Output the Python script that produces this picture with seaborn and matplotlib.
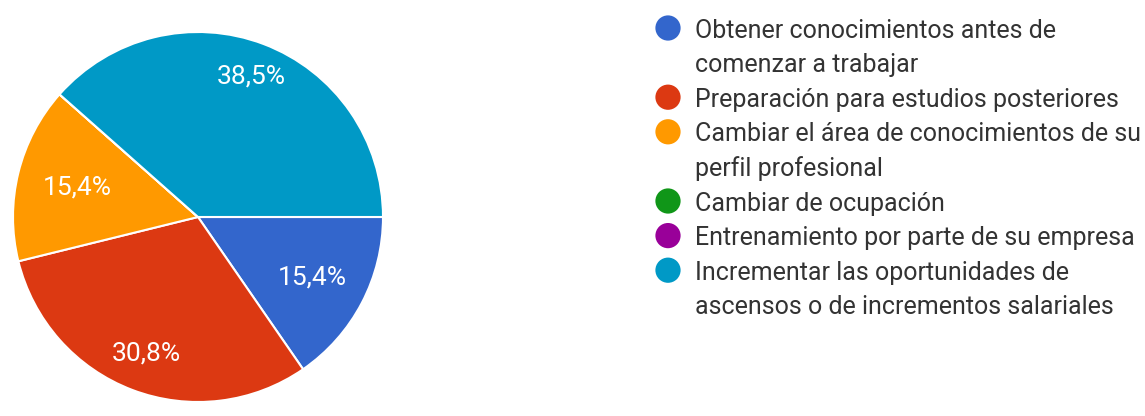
import matplotlib
matplotlib.use("Agg")
import matplotlib.pyplot as plt
import seaborn as sns

# Datos
categorias = [
    "Obtener conocimientos antes de\ncomenzar a trabajar",
    "Preparación para estudios posteriores",
    "Cambiar el área de conocimientos de su\nperfil profesional",
    "Cambiar de ocupación",
    "Entrenamiento por parte de su empresa",
    "Incrementar las oportunidades de\nascensos o de incrementos salariales",
]
porcentajes = [15.4, 30.8, 15.4, 0, 0, 38.5]
colores = ["#3366cc", "#dc3912", "#ff9900", "#109618", "#990099", "#0099c6"]

# distancia radial de cada etiqueta (estilo)
radio_etiqueta = [0.70, 0.79, 0.67, 0.7, 0.7, 0.81]


def fmt_pct(p):
    if p < 0.5:
        return ""
    return f"{p:.1f}%".replace(".", ",")


def main():
    sns.set_theme(style="white")
    plt.rcParams["font.family"] = ["Roboto", "DejaVu Sans"]
    palette = sns.color_palette(colores)

    W, H = 1145, 416
    fig = plt.figure(figsize=(W / 100, H / 100), dpi=100)
    fig.patch.set_facecolor("white")

    # Gráfico circular
    cx, cy, r = 198, 217, 185
    ax = fig.add_axes([(cx - r) / W, (H - cy - r) / H, 2 * r / W, 2 * r / H])
    wedges, _, autotexts = ax.pie(
        porcentajes,
        colors=palette,
        startangle=0,
        counterclock=False,
        radius=1,
        autopct=fmt_pct,
        pctdistance=0.75,
        wedgeprops=dict(edgecolor="white", linewidth=1.5),
        textprops=dict(color="white", fontsize=19),
    )
    for t, rr in zip(autotexts, radio_etiqueta):
        x, y = t.get_position()
        d = (x ** 2 + y ** 2) ** 0.5
        if d > 0:
            t.set_position((x / d * rr, y / d * rr))
    ax.set_xlim(-1, 1)
    ax.set_ylim(-1, 1)
    ax.set_aspect("equal")
    ax.axis("off")

    # Leyenda a la derecha
    lax = fig.add_axes([0, 0, 1, 1])
    lax.set_xlim(0, W)
    lax.set_ylim(H, 0)
    lax.axis("off")
    y = 28
    paso = 34.6
    for cat, col in zip(categorias, palette):
        lax.scatter([668], [y], s=330, color=col, edgecolor="none")
        for linea in cat.split("\n"):
            lax.text(695, y, linea, fontsize=18, color="#333333",
                     va="center_baseline", ha="left")
            y += paso

    fig.savefig("out.png", dpi=100)
    plt.close(fig)


if __name__ == "__main__":
    main()
